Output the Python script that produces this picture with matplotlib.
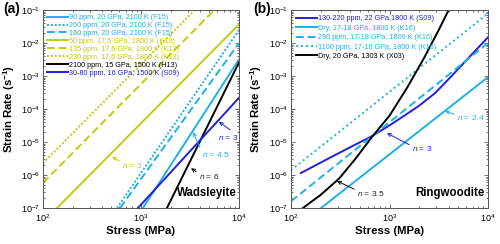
import numpy as np
import matplotlib
matplotlib.use('Agg')
from matplotlib import pyplot
from matplotlib.ticker import NullFormatter

pyplot.rcParams['font.family'] = ['Liberation Sans', 'DejaVu Sans']
pyplot.rcParams['mathtext.fontset'] = 'custom'
pyplot.rcParams['mathtext.rm'] = 'Liberation Sans'
pyplot.rcParams['mathtext.it'] = 'Liberation Sans:italic'
pyplot.rcParams['mathtext.bf'] = 'Liberation Sans:bold'

cyan = '#1EB1E8'
yellow = '#C8C80F'
blue = '#2020E0'
black = 'k'

# ---- panel (a) wadsleyite : stress (MPa), strain rate (1/s)
a_cyan_solid_s = [1047, 10000]
a_cyan_solid_r = [1e-7, 3.2e-3]
a_cyan_dot_s = [569, 10000]
a_cyan_dot_r = [1e-7, 2.5e-2]
a_cyan_dash_s = [611, 10000]
a_cyan_dash_r = [1e-7, 1.0e-2]
a_yel_solid_s = [139, 10000]
a_yel_solid_r = [1e-7, 3.7e-2]
a_yel_dash_s = [100, 5580]
a_yel_dash_r = [5.8e-7, 1e-1]
a_yel_dot_s = [100, 3520]
a_yel_dot_r = [2.3e-6, 1e-1]
a_black_s = [1840, 10000]
a_black_r = [1e-7, 2.6e-3]
a_blue_s = [931, 10000]
a_blue_r = [1e-7, 2.2e-4]

a_labels = ['90 ppm, 20 GPa, 2100 K (F15)', '260 ppm, 20 GPa, 2100 K (F15)',
            '160 ppm, 20 GPa, 2100 K (F15)', '50 ppm, 17.6 GPa, 1800 K (K13)',
            '135 ppm, 17.6 GPa, 1800 K (K13)', '230 ppm, 17.6 GPa, 1800 K (K13)',
            '2100 ppm, 15 GPa, 1500 K (H13)', '30-80 ppm, 16 GPa, 1500 K (S09)']

# ---- panel (b) ringwoodite
b_blue_s = [126, 251, 447, 661, 1000, 1413, 1995, 2884, 4266, 6310, 10000]
b_blue_r = [1.15e-6, 3.4e-6, 8.3e-6, 1.5e-5, 3.2e-5, 6.3e-5, 1.26e-4, 3.0e-4, 1.0e-3, 3.5e-3, 1.5e-2]
b_cyan_solid_s = [202, 10000]
b_cyan_solid_r = [1e-7, 9.3e-4]
b_cyan_dash_s = [100, 10000]
b_cyan_dash_r = [1.6e-7, 1.0e-2]
b_cyan_dot_s = [100, 10000]
b_cyan_dot_r = [1.4e-6, 7.9e-2]
b_black_s = [132, 200, 309, 447, 661, 1000, 1514, 2239, 3162, 3981]
b_black_r = [1e-7, 2.5e-7, 7.9e-7, 3.0e-6, 1.4e-5, 6.3e-5, 4.5e-4, 3.5e-3, 2.5e-2, 1e-1]

b_labels = ['130-220 ppm, 22 GPa,1800 K (S09)', 'Dry, 17-18 GPa, 1800 K (K16)',
            '290 ppm, 17-18 GPa, 1800 K (K16)', '1100 ppm, 17-18 GPa, 1800 K (K16)',
            'Dry, 20 GPa, 1303 K (X03)']

fig = pyplot.figure(figsize=(5, 2.44), dpi=100)
ax_a = fig.add_axes([0.086, 0.1475, 0.392, 0.811])
ax_b = fig.add_axes([0.582, 0.1475, 0.394, 0.811])

lw = 1.4

def style(ax):
    ax.set_xscale('log')
    ax.set_yscale('log')
    ax.set_xlim(100, 10000)
    ax.set_ylim(1e-7, 1e-1)
    ax.xaxis.set_minor_formatter(NullFormatter())
    ax.yaxis.set_minor_formatter(NullFormatter())
    ax.tick_params(which='both', direction='in', top=True, right=True,
                   labelsize=6.5, color='#555555', width=0.6)
    ax.tick_params(axis='x', pad=3)
    ax.tick_params(axis='y', pad=2)
    ax.tick_params(which='major', length=3)
    ax.tick_params(which='minor', length=1.6)
    for sp in ax.spines.values():
        sp.set_color('#555555')
        sp.set_linewidth(0.7)
    ax.set_xlabel('Stress (MPa)', fontsize=8.2, fontweight='bold')
    ax.xaxis.set_label_coords(0.5, -0.09)
    ax.set_ylabel('Strain Rate (s$^{\\mathbf{-1}}$)', fontsize=8.2, fontweight='bold')
    ax.yaxis.set_label_coords(-0.135, 0.5)

# panel a
ax = ax_a
ax.plot(a_cyan_solid_s, a_cyan_solid_r, color=cyan, lw=lw, ls='-', label=a_labels[0])
ax.plot(a_cyan_dot_s, a_cyan_dot_r, color=cyan, lw=lw, ls=(0, (1, 1)), label=a_labels[1])
ax.plot(a_cyan_dash_s, a_cyan_dash_r, color=cyan, lw=lw, ls=(0, (4, 2)), label=a_labels[2])
ax.plot(a_yel_solid_s, a_yel_solid_r, color=yellow, lw=lw, ls='-', label=a_labels[3])
ax.plot(a_yel_dash_s, a_yel_dash_r, color=yellow, lw=lw, ls=(0, (4, 2)), label=a_labels[4])
ax.plot(a_yel_dot_s, a_yel_dot_r, color=yellow, lw=lw, ls=(0, (1, 1)), label=a_labels[5])
ax.plot(a_black_s, a_black_r, color=black, lw=lw, label=a_labels[6])
ax.plot(a_blue_s, a_blue_r, color=blue, lw=lw, label=a_labels[7])
style(ax)
ax.legend(loc='upper left', frameon=False, fontsize=5.2, handlelength=2.9,
          handletextpad=0.2, labelspacing=0.12, borderpad=0.1, borderaxespad=0.45,
          labelcolor='linecolor')

arr = dict(arrowstyle='->', lw=0.7, shrinkA=0, shrinkB=0, mutation_scale=6)
ax.annotate('$n$ = 3', xy=(506, 3.5e-6), xytext=(640, 2.0e-6), fontsize=6, color=yellow,
            va='center', arrowprops=dict(arr, color=yellow, relpos=(0, 0.8)))
ax.annotate('$n$ = 4.5', xy=(3400, 2.0e-5), xytext=(4190, 4.1e-6), fontsize=6, color=cyan,
            va='center', arrowprops=dict(arr, color=cyan, relpos=(0, 0.8)))
ax.annotate('$n$ = 6', xy=(3240, 1.6e-6), xytext=(3890, 9.3e-7), fontsize=6, color='#222222',
            va='center', arrowprops=dict(arr, color='k', relpos=(0, 0.8)))
ax.annotate('$n$ = 3', xy=(6250, 4.1e-5), xytext=(9800, 1.4e-5), fontsize=6, color=blue,
            va='center', ha='right', arrowprops=dict(arr, color=blue, relpos=(0.8, 1.0)))
ax.text(0.99, 0.075, 'Wadsleyite', transform=ax.transAxes, ha='right', va='center',
        fontsize=8.3, fontweight='bold')

# panel b
ax = ax_b
ax.plot(b_blue_s, b_blue_r, color=blue, lw=lw, label=b_labels[0])
ax.plot(b_cyan_solid_s, b_cyan_solid_r, color=cyan, lw=lw, label=b_labels[1])
ax.plot(b_cyan_dash_s, b_cyan_dash_r, color=cyan, lw=lw, ls=(0, (4, 2)), label=b_labels[2])
ax.plot(b_cyan_dot_s, b_cyan_dot_r, color=cyan, lw=lw, ls=(0, (1, 1.6)), label=b_labels[3])
ax.plot(b_black_s, b_black_r, color=black, lw=lw, label=b_labels[4])
style(ax)
ax.legend(loc='upper left', frameon=False, fontsize=5.2, handlelength=2.9,
          handletextpad=0.2, labelspacing=0.33, borderpad=0.1, borderaxespad=0.6,
          labelcolor='linecolor')

ax.annotate('$n$ = 2.4', xy=(3660, 8.7e-5), xytext=(4840, 5.4e-5), fontsize=6, color=cyan,
            va='center', arrowprops=dict(arr, color=cyan, relpos=(0, 0.8)))
ax.annotate('$n$ = 3', xy=(944, 1.86e-5), xytext=(1690, 6.2e-6), fontsize=6, color=blue,
            va='center', arrowprops=dict(arr, color=blue, relpos=(0, 0.8)))
ax.annotate('$n$ = 3.5', xy=(293, 6.6e-7), xytext=(468, 2.8e-7), fontsize=6, color='#222222',
            va='center', arrowprops=dict(arr, color='k', relpos=(0, 0.8)))
ax.text(0.98, 0.075, 'Ringwoodite', transform=ax.transAxes, ha='right', va='center',
        fontsize=8.3, fontweight='bold')

fig.text(0.006, 0.963, '(a)', fontsize=10, fontweight='bold', va='center')
fig.text(0.506, 0.963, '(b)', fontsize=10, fontweight='bold', va='center')

pyplot.savefig('out.png', dpi=100)
